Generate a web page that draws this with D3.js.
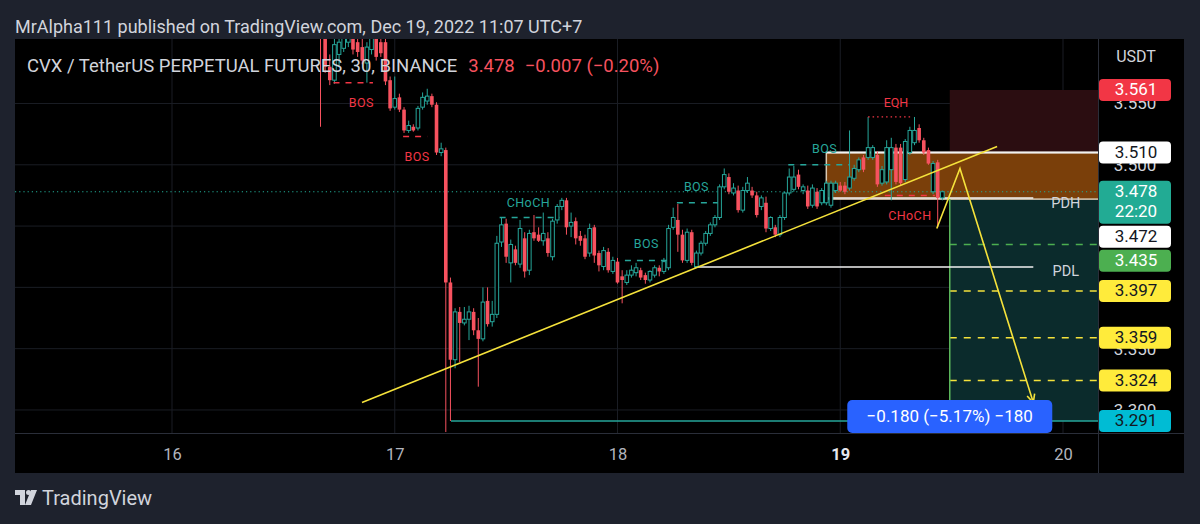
<!DOCTYPE html>
<html>
<head>
<meta charset="utf-8">
<script src="https://cdn.jsdelivr.net/npm/d3@7"></script>
<style>
  body { margin: 0; background: #1e222d; }
  text { font-family: Roboto, "Liberation Sans", sans-serif; }
</style>
</head>
<body>
<svg id="chart" width="1200" height="524"></svg>
<script>
//====
// Data (30m candles, times shown in UTC+7 and stored as UTC)
//====
const startTime = Date.UTC(2022, 11, 16, 16, 0);

const opens = [
  3.640, 3.612, 3.580, 3.569, 3.590, 3.595, 3.600, 3.610, 3.600, 3.596,
  3.583, 3.594, 3.610, 3.600, 3.600, 3.569, 3.547, 3.555, 3.545, 3.528,
  3.531, 3.530, 3.547, 3.552, 3.556, 3.549, 3.510, 3.512, 3.404, 3.341,
  3.380, 3.371, 3.374, 3.380, 3.365, 3.358, 3.389, 3.372, 3.378, 3.437,
  3.452, 3.420, 3.431, 3.419, 3.440, 3.414, 3.445, 3.443, 3.438, 3.440,
  3.425, 3.455, 3.466, 3.471, 3.450, 3.454, 3.442, 3.440, 3.428, 3.449,
  3.428, 3.417, 3.429, 3.413, 3.421, 3.409, 3.404, 3.410, 3.412, 3.414,
  3.410, 3.406, 3.410, 3.416, 3.413, 3.416, 3.449, 3.455, 3.443, 3.422,
  3.445, 3.417, 3.428, 3.436, 3.444, 3.451, 3.457, 3.482, 3.490, 3.477,
  3.479, 3.463, 3.479, 3.479, 3.475, 3.466, 3.469, 3.448, 3.449, 3.443,
  3.457, 3.477, 3.480, 3.492, 3.479, 3.479, 3.467, 3.478, 3.469, 3.469,
  3.467, 3.479, 3.483, 3.483, 3.481, 3.489, 3.496, 3.506, 3.506, 3.506,
  3.508, 3.485, 3.486, 3.496, 3.514, 3.514, 3.488, 3.510, 3.518, 3.530,
  3.520, 3.512, 3.478, 3.502, 3.473
];
const highs = [
  3.645, 3.620, 3.590, 3.608, 3.603, 3.610, 3.615, 3.615, 3.606, 3.606,
  3.600, 3.612, 3.615, 3.610, 3.606, 3.572, 3.572, 3.558, 3.547, 3.536,
  3.533, 3.548, 3.559, 3.562, 3.558, 3.551, 3.518, 3.514, 3.408, 3.383,
  3.384, 3.384, 3.385, 3.383, 3.375, 3.400, 3.400, 3.389, 3.442, 3.457,
  3.456, 3.439, 3.434, 3.455, 3.445, 3.447, 3.459, 3.449, 3.461, 3.445,
  3.456, 3.468, 3.473, 3.473, 3.461, 3.457, 3.446, 3.443, 3.452, 3.451,
  3.430, 3.433, 3.432, 3.425, 3.424, 3.414, 3.414, 3.418, 3.420, 3.416,
  3.412, 3.414, 3.418, 3.418, 3.424, 3.451, 3.465, 3.468, 3.447, 3.448,
  3.447, 3.430, 3.438, 3.446, 3.453, 3.459, 3.484, 3.497, 3.493, 3.485,
  3.483, 3.482, 3.490, 3.482, 3.478, 3.475, 3.474, 3.458, 3.451, 3.459,
  3.478, 3.497, 3.499, 3.496, 3.484, 3.483, 3.484, 3.481, 3.481, 3.487,
  3.487, 3.487, 3.486, 3.486, 3.528, 3.500, 3.506, 3.508, 3.539, 3.516,
  3.511, 3.499, 3.520, 3.522, 3.517, 3.517, 3.521, 3.531, 3.539, 3.533,
  3.522, 3.514, 3.503, 3.504, 3.479
];
const lows = [
  3.531, 3.575, 3.565, 3.566, 3.580, 3.592, 3.596, 3.590, 3.588, 3.582,
  3.567, 3.590, 3.585, 3.588, 3.565, 3.544, 3.545, 3.543, 3.526, 3.526,
  3.527, 3.528, 3.545, 3.549, 3.547, 3.508, 3.507, 3.282, 3.291, 3.334,
  3.339, 3.369, 3.357, 3.361, 3.319, 3.356, 3.368, 3.368, 3.375, 3.433,
  3.420, 3.404, 3.418, 3.416, 3.408, 3.410, 3.438, 3.437, 3.434, 3.425,
  3.422, 3.452, 3.463, 3.443, 3.441, 3.435, 3.434, 3.423, 3.425, 3.420,
  3.413, 3.414, 3.412, 3.411, 3.403, 3.387, 3.402, 3.408, 3.409, 3.406,
  3.403, 3.404, 3.408, 3.409, 3.411, 3.414, 3.447, 3.429, 3.420, 3.420,
  3.418, 3.416, 3.426, 3.434, 3.442, 3.449, 3.455, 3.480, 3.476, 3.475,
  3.461, 3.461, 3.477, 3.473, 3.457, 3.463, 3.445, 3.446, 3.441, 3.441,
  3.455, 3.475, 3.478, 3.480, 3.476, 3.464, 3.465, 3.464, 3.467, 3.467,
  3.465, 3.477, 3.478, 3.476, 3.479, 3.487, 3.494, 3.494, 3.504, 3.504,
  3.482, 3.483, 3.484, 3.471, 3.484, 3.483, 3.486, 3.508, 3.516, 3.518,
  3.508, 3.500, 3.476, 3.449, 3.471
];
const closes = [
  3.610, 3.580, 3.569, 3.598, 3.600, 3.606, 3.610, 3.594, 3.592, 3.585,
  3.596, 3.606, 3.588, 3.591, 3.568, 3.546, 3.554, 3.545, 3.528, 3.532,
  3.528, 3.546, 3.555, 3.556, 3.549, 3.510, 3.513, 3.404, 3.341, 3.380,
  3.371, 3.374, 3.380, 3.365, 3.358, 3.388, 3.370, 3.378, 3.436, 3.451,
  3.425, 3.435, 3.420, 3.448, 3.413, 3.444, 3.440, 3.438, 3.444, 3.428,
  3.454, 3.466, 3.471, 3.449, 3.453, 3.440, 3.438, 3.425, 3.448, 3.426,
  3.418, 3.430, 3.414, 3.422, 3.404, 3.406, 3.410, 3.414, 3.416, 3.408,
  3.406, 3.413, 3.416, 3.413, 3.421, 3.448, 3.457, 3.443, 3.422, 3.445,
  3.420, 3.428, 3.436, 3.444, 3.451, 3.457, 3.482, 3.492, 3.478, 3.481,
  3.463, 3.479, 3.485, 3.475, 3.459, 3.473, 3.448, 3.457, 3.443, 3.457,
  3.477, 3.490, 3.490, 3.482, 3.482, 3.466, 3.481, 3.466, 3.479, 3.485,
  3.485, 3.485, 3.479, 3.478, 3.490, 3.497, 3.504, 3.496, 3.514, 3.514,
  3.484, 3.496, 3.514, 3.514, 3.486, 3.485, 3.519, 3.528, 3.528, 3.520,
  3.510, 3.501, 3.501, 3.473, 3.478
];

const dayTicks = [16, 17, 18, 19, 20];
const priceTicks = [3.30, 3.35, 3.40, 3.45, 3.50, 3.55];

const lastPrice = 3.478, lastChange = -0.007, lastChangePct = -0.20, countdown = '22:20';
const entryPrice = 3.472, stopPrice = 3.561, targetPrice = 3.291;
const takeProfits = [3.435, 3.397, 3.359, 3.324];
const measureDelta = -0.180, measurePct = -5.17, measureTicks = -180;
const boxTop = 3.510;
const pdh = 3.472, pdl = 3.4166;
const tagPrices = [3.561, 3.510, 3.478, 3.472, 3.435, 3.397, 3.359, 3.324, 3.291];

// drawings, times in hours from Dec 17 00:00
const structureMarks = [
  { h1: -6.6, h2: -2.35, p: 3.567, text: 'BOS',   lh: -3.6, lp: 3.550, bull: false },
  { h1: 0.9,  h2: 3.5,   p: 3.523, text: 'BOS',   lh: 2.4,  lp: 3.506, bull: false },
  { h1: 11.3, h2: 17.8,  p: 3.457, text: 'CHoCH', lh: 14.4, lp: 3.468, bull: true },
  { h1: 24.8, h2: 29.4,  p: 3.422, text: 'BOS',   lh: 27.1, lp: 3.435, bull: true },
  { h1: 30.4, h2: 34.8,  p: 3.469, text: 'BOS',   lh: 32.5, lp: 3.481, bull: true },
  { h1: 42.4, h2: 49.0,  p: 3.500, text: 'BOS',   lh: 46.3, lp: 3.512, bull: true },
  { h1: 52.8, h2: 58.2,  p: 3.475, text: 'CHoCH', lh: 55.5, lp: 3.458, bull: false }
];
const eqh = { h1: 51, h2: 55.8, p: 3.539, lh: 54, lp: 3.550 };
const trendline = [[-3.53, 3.306], [64.9, 3.515]];
const projection = [[58.4, 3.448], [60.9, 3.497], [68.8, 3.306]];
const boxStart = 46.5, zoneStart = 59.8, levelEnd = 68.8, pdlStart = 32.3, targetRayStart = 6.06, edgeH = 80;

//====
// Layout & styles
//====
const W = 1200, H = 524;
const plot = { left: 15, top: 39, right: 1098, bottom: 433 };
const panelRight = 1184, panelBottom = 473;
const UP = '#26a69a', DOWN = '#f7525f', YELLOW = '#f5e23b';
const tagStyles = [
  { bg: '#f23645', fg: '#fff' }, { bg: '#fff', fg: '#131722' }, { bg: '#22ab94', fg: '#fff' },
  { bg: '#fff', fg: '#131722' }, { bg: '#4caf50', fg: '#fff' }, { bg: '#ffeb3b', fg: '#131722' },
  { bg: '#ffeb3b', fg: '#131722' }, { bg: '#ffeb3b', fg: '#131722' }, { bg: '#00bcd4', fg: '#131722' }
];

const hr = h => new Date(Date.UTC(2022, 11, 17) + h * 3600e3);
const x = d3.scaleUtc()
  .domain([Date.UTC(2022, 11, 16), Date.UTC(2022, 11, 20)])
  .range([172, 1063]);
const y = d3.scaleLinear().domain([3.291, 3.561]).range([421, 90]);

const candles = opens.map((o, i) => ({
  t: new Date(startTime + i * 1800e3), o, h: highs[i], l: lows[i], c: closes[i]
}));

const svg = d3.select('#chart');
svg.append('rect').attr('width', W).attr('height', H).attr('fill', '#1e222d');
svg.append('rect')
  .attr('x', plot.left).attr('y', plot.top)
  .attr('width', panelRight - plot.left).attr('height', panelBottom - plot.top)
  .attr('fill', '#000');

svg.append('defs').append('clipPath').attr('id', 'plotClip')
  .append('rect')
  .attr('x', plot.left).attr('y', plot.top)
  .attr('width', plot.right - plot.left).attr('height', plot.bottom - plot.top);

const g = svg.append('g').attr('clip-path', 'url(#plotClip)');

// grid
g.selectAll('.hgrid').data(priceTicks).enter().append('line')
  .attr('x1', plot.left).attr('x2', plot.right)
  .attr('y1', d => y(d)).attr('y2', d => y(d))
  .attr('stroke', '#1a1d24');
g.selectAll('.vgrid').data(dayTicks).enter().append('line')
  .attr('x1', d => x(Date.UTC(2022, 11, d))).attr('x2', d => x(Date.UTC(2022, 11, d)))
  .attr('y1', plot.top).attr('y2', plot.bottom)
  .attr('stroke', '#1a1d24');

// position tool zones
const zx = x(hr(zoneStart)), zEnd = x(hr(edgeH));
g.append('rect').attr('x', zx).attr('width', zEnd - zx)
  .attr('y', y(stopPrice)).attr('height', y(entryPrice) - y(stopPrice))
  .attr('fill', '#2b0d11');
g.append('rect').attr('x', zx).attr('width', zEnd - zx)
  .attr('y', y(entryPrice)).attr('height', y(targetPrice) - y(entryPrice))
  .attr('fill', '#0b2b2c');

// orange box
const bx = x(hr(boxStart));
g.append('rect').attr('x', bx).attr('width', zEnd - bx)
  .attr('y', y(boxTop)).attr('height', y(entryPrice) - y(boxTop))
  .attr('fill', '#7a3f0a').attr('stroke', '#d9c9b3').attr('stroke-width', 1.5);
g.append('line').attr('x1', bx).attr('x2', plot.right)
  .attr('y1', y(boxTop)).attr('y2', y(boxTop))
  .attr('stroke', '#f2f2f2').attr('stroke-width', 2);

// take-profit dashed levels
g.selectAll('.tp').data(takeProfits).enter().append('line')
  .attr('x1', zx).attr('x2', plot.right)
  .attr('y1', d => y(d)).attr('y2', d => y(d))
  .attr('stroke', (d, i) => i === 0 ? '#4caf50' : YELLOW)
  .attr('stroke-width', 1.5).attr('stroke-dasharray', '7,7');
g.append('line').attr('x1', zx).attr('x2', zx)
  .attr('y1', y(entryPrice)).attr('y2', y(targetPrice))
  .attr('stroke', '#5cb85c').attr('stroke-width', 1.5);

// target ray from the spike low
g.append('line').attr('x1', x(hr(targetRayStart))).attr('x2', plot.right)
  .attr('y1', y(targetPrice)).attr('y2', y(targetPrice))
  .attr('stroke', '#26a69a').attr('stroke-width', 1.5);

// PDH / PDL
g.append('line').attr('x1', bx).attr('x2', x(hr(levelEnd)))
  .attr('y1', y(pdh) - 1).attr('y2', y(pdh) - 1)
  .attr('stroke', '#f2f2f2').attr('stroke-width', 1.5);
g.append('line').attr('x1', x(hr(pdlStart))).attr('x2', x(hr(levelEnd)))
  .attr('y1', y(pdl)).attr('y2', y(pdl))
  .attr('stroke', '#f2f2f2').attr('stroke-width', 1.5);
[['PDH', pdh - 0.004], ['PDL', pdl - 0.004]].forEach(([t, p]) => {
  g.append('text').attr('x', x(hr(72.3))).attr('y', y(p))
    .attr('text-anchor', 'middle').attr('dominant-baseline', 'middle')
    .attr('fill', '#d1d4dc').attr('font-size', 14.5).text(t);
});

// last price dotted line
g.append('line').attr('x1', plot.left).attr('x2', plot.right)
  .attr('y1', y(lastPrice)).attr('y2', y(lastPrice))
  .attr('stroke', '#22ab94').attr('stroke-width', 1.2).attr('stroke-dasharray', '1.2,3');

// candles
const bodyW = 3.6;
const cg = g.append('g');
candles.forEach(d => {
  const cx = x(d.t);
  const up = d.c >= d.o;
  const col = up ? UP : DOWN;
  cg.append('line').attr('x1', cx).attr('x2', cx)
    .attr('y1', y(d.h)).attr('y2', y(d.l))
    .attr('stroke', col).attr('stroke-width', 1);
  const top = y(Math.max(d.o, d.c)), bot = y(Math.min(d.o, d.c));
  cg.append('rect')
    .attr('x', cx - bodyW / 2).attr('width', bodyW)
    .attr('y', top).attr('height', Math.max(1, bot - top))
    .attr('fill', up ? '#000' : DOWN)
    .attr('stroke', col).attr('stroke-width', up ? 1 : 0);
});

// structure marks
structureMarks.forEach(m => {
  const col = m.bull ? '#26a69a' : '#f23645';
  g.append('line').attr('x1', x(hr(m.h1))).attr('x2', x(hr(m.h2)))
    .attr('y1', y(m.p)).attr('y2', y(m.p))
    .attr('stroke', col).attr('stroke-width', 1.5).attr('stroke-dasharray', '6,6');
  g.append('text').attr('x', x(hr(m.lh))).attr('y', y(m.lp))
    .attr('text-anchor', 'middle').attr('dominant-baseline', 'middle')
    .attr('fill', col).attr('font-size', 12.5).attr('letter-spacing', 0.4).text(m.text);
});
g.append('line').attr('x1', x(hr(eqh.h1))).attr('x2', x(hr(eqh.h2)))
  .attr('y1', y(eqh.p)).attr('y2', y(eqh.p))
  .attr('stroke', '#f23645').attr('stroke-width', 1.3).attr('stroke-dasharray', '1.5,3');
g.append('text').attr('x', x(hr(eqh.lh))).attr('y', y(eqh.lp))
  .attr('text-anchor', 'middle').attr('dominant-baseline', 'middle')
  .attr('fill', '#f23645').attr('font-size', 12.5).text('EQH');

// trendline and projection path
const line = d3.line().x(d => x(hr(d[0]))).y(d => y(d[1]));
g.append('path').attr('d', line(trendline))
  .attr('fill', 'none').attr('stroke', YELLOW).attr('stroke-width', 1.6);
g.append('path').attr('d', line(projection))
  .attr('fill', 'none').attr('stroke', YELLOW).attr('stroke-width', 1.6);
const pa = projection[1], pb = projection[2];
const ax = x(hr(pb[0])), ay = y(pb[1]);
const ang = Math.atan2(ay - y(pa[1]), ax - x(hr(pa[0])));
[0.45, -0.45].forEach(da => {
  g.append('line').attr('x1', ax).attr('y1', ay)
    .attr('x2', ax - 9 * Math.cos(ang + da)).attr('y2', ay - 9 * Math.sin(ang + da))
    .attr('stroke', YELLOW).attr('stroke-width', 1.6);
});

// measure label
const mw = 205, mh = 33, mcx = x(hr(zoneStart));
const fmtMinus = s => s.replace('-', '\u2212');
g.append('rect').attr('x', mcx - mw / 2).attr('y', y(targetPrice) - 21)
  .attr('width', mw).attr('height', mh).attr('rx', 5).attr('fill', '#2962ff');
g.append('text').attr('x', mcx).attr('y', y(targetPrice) - 21 + mh / 2 + 1)
  .attr('text-anchor', 'middle').attr('dominant-baseline', 'middle')
  .attr('fill', '#fff').attr('font-size', 17)
  .text(fmtMinus(measureDelta.toFixed(3)) + ' (' + fmtMinus(measurePct.toFixed(2)) + '%) ' + fmtMinus(String(measureTicks)));

// frame lines
svg.append('line').attr('x1', plot.right + 0.5).attr('x2', plot.right + 0.5)
  .attr('y1', plot.top).attr('y2', panelBottom).attr('stroke', '#2a2e39');
svg.append('line').attr('x1', plot.left).attr('x2', panelRight)
  .attr('y1', plot.bottom + 0.5).attr('y2', plot.bottom + 0.5).attr('stroke', '#2a2e39');

// price tags layout (pushed down when they collide)
const tagBoxes = [];
let prevBottom = -Infinity;
tagPrices.forEach((p, i) => {
  const h = p === lastPrice ? 43 : 22;
  let top = y(p) - 11;
  if (top < prevBottom + 2) top = prevBottom + 2;
  prevBottom = top + h;
  tagBoxes.push({ p, top, h, st: tagStyles[i], isLast: p === lastPrice });
});
// an axis label is skipped when the tags leave almost none of it visible
const visiblePart = v => {
  const a = y(v) - 6, b = y(v) + 6;
  let free = 0;
  for (let s = a; s < b; s += 0.5) {
    if (!tagBoxes.some(t => s >= t.top && s <= t.top + t.h)) free += 0.5;
  }
  return free;
};

// price axis
const yAxis = svg.append('g').attr('transform', 'translate(' + plot.right + ',0)')
  .call(d3.axisRight(y).tickValues(priceTicks.filter(v => visiblePart(v) >= 3))
    .tickFormat(d3.format('.3f')).tickSize(0));
yAxis.select('.domain').remove();
yAxis.selectAll('text').attr('x', 37).attr('text-anchor', 'middle')
  .attr('fill', '#d1d4dc').attr('font-size', 17).attr('font-family', 'Roboto, sans-serif');
svg.append('text').attr('x', 1136).attr('y', 58)
  .attr('text-anchor', 'middle').attr('dominant-baseline', 'middle')
  .attr('fill', '#d1d4dc').attr('font-size', 16).text('USDT');

tagBoxes.forEach(b => {
  svg.append('rect').attr('x', plot.right + 1).attr('y', b.top)
    .attr('width', 72).attr('height', b.h).attr('rx', 4).attr('fill', b.st.bg);
  svg.append('text').attr('x', 1136).attr('y', b.top + 11.5)
    .attr('text-anchor', 'middle').attr('dominant-baseline', 'middle')
    .attr('fill', b.st.fg).attr('font-size', 17).text(b.p.toFixed(3));
  if (b.isLast) {
    svg.append('text').attr('x', 1136).attr('y', b.top + 32)
      .attr('text-anchor', 'middle').attr('dominant-baseline', 'middle')
      .attr('fill', b.st.fg).attr('font-size', 17).text(countdown);
  }
});

// time axis
const xAxis = svg.append('g').attr('transform', 'translate(0,' + plot.bottom + ')')
  .call(d3.axisBottom(x).tickValues(dayTicks.map(d => new Date(Date.UTC(2022, 11, d))))
    .tickFormat(d3.utcFormat('%-d')).tickSize(0).tickPadding(15));
xAxis.select('.domain').remove();
xAxis.selectAll('text')
  .attr('fill', d => d.getUTCDate() === 19 ? '#e6e8ee' : '#b2b5be')
  .attr('font-weight', d => d.getUTCDate() === 19 ? 'bold' : 'normal')
  .attr('font-size', 16.5).attr('font-family', 'Roboto, sans-serif');

// legend
const legend = svg.append('text').attr('x', 27).attr('y', 72).attr('font-size', 18.5);
legend.append('tspan').attr('fill', '#d1d4dc').text('CVX / TetherUS PERPETUAL FUTURES, 30, BINANCE');
legend.append('tspan').attr('fill', '#f7525f').attr('dx', 11).text(lastPrice.toFixed(3));
legend.append('tspan').attr('fill', '#f7525f').attr('dx', 10)
  .text(fmtMinus(lastChange.toFixed(3)) + ' (' + fmtMinus(lastChangePct.toFixed(2)) + '%)');

// header & footer
svg.append('text').attr('x', 15).attr('y', 33).attr('font-size', 18)
  .attr('fill', '#d1d4dc').text('MrAlpha111 published on TradingView.com, Dec 19, 2022 11:07 UTC+7');
const logo = svg.append('g').attr('fill', '#d1d4dc');
logo.append('path').attr('d', 'M15 490 h10 v15 h-5 v-10 h-5 z');
logo.append('circle').attr('cx', 28.5).attr('cy', 492.5).attr('r', 2.5);
logo.append('path').attr('d', 'M31 490 h6 l-6 15 h-6 z');
svg.append('text').attr('x', 42).attr('y', 505).attr('font-size', 20)
  .attr('fill', '#d1d4dc').text('TradingView');
</script>
</body>
</html>
